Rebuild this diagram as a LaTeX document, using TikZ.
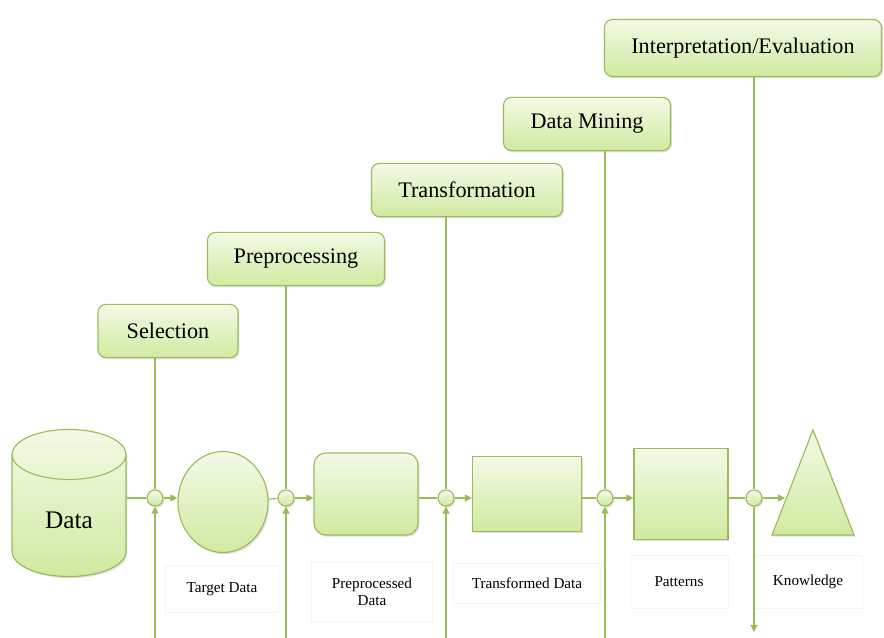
\documentclass[tikz,border=0pt]{standalone}
\usepackage{fontspec}
\setmainfont{Liberation Serif}
\usetikzlibrary{arrows.meta, shapes.geometric, shadows}
\definecolor{kddline}{RGB}{155,187,89}
\definecolor{kddtop}{RGB}{243,250,230}
\definecolor{kddbot}{RGB}{208,234,160}

\begin{document}
\begin{tikzpicture}[x=0.025cm, y=-0.025cm,
  green/.style = {draw=kddline, top color=kddtop, bottom color=kddbot, line width=0.8pt, drop shadow={opacity=0.25, shadow xshift=1pt, shadow yshift=-1.2pt}},
  stage/.style = {green, rounded corners=0.2cm, font=\fontsize{15.8}{18}\selectfont, minimum height=1.33cm},
  hub/.style = {green, circle, minimum size=0.4cm, inner sep=0pt},
  caption/.style = {draw=black!4, font=\fontsize{10.8}{12.5}\selectfont, align=center},
  wire/.style = {draw=kddline, line width=0.8pt},
  flow/.style = {wire, -{Triangle[length=5pt, width=5pt]}}]
\useasboundingbox (0,0) rectangle (884,638);
\coordinate (bot) at (0,638);
\coordinate (sink) at (0,632);
\node[caption, minimum width=2.825cm, minimum height=1.175cm] (tgtl) at (222,589) {Target Data};
\node[caption, minimum width=3.025cm, minimum height=1.475cm] (ppdl) at (372,592) {Preprocessed\\Data};
\node[caption, minimum width=3.675cm, minimum height=1cm] (trdl) at (527,583) {Transformed Data};
\node[caption, minimum width=2.45cm, minimum height=1.325cm] (patl) at (679,582) {Patterns};
\node[caption, minimum width=2.725cm, minimum height=1.325cm] (knol) at (808,582) {Knowledge};
\node[stage, minimum width=3.5cm] (sel) at (168,331) {Selection};
\node[stage, minimum width=4.425cm] (pre) at (296,259) {Preprocessing};
\node[stage, minimum width=4.775cm] (tra) at (467,190) {Transformation};
\node[stage, minimum width=4.175cm] (dmi) at (587,124) {Data Mining};
\node[stage, minimum width=6.925cm, minimum height=1.425cm] (int) at (743,48) {Interpretation/Evaluation};
\node[hub] (c1) at (155,498) {};
\node[hub] (c2) at (286,498) {};
\node[hub] (c3) at (446,498) {};
\node[hub] (c4) at (605,498) {};
\node[hub] (c5) at (754,498) {};
\node[green, cylinder, shape border rotate=90, aspect=0.875, minimum width=2.85cm, minimum height=3.675cm, anchor=shape center, font=\fontsize{18}{20}\selectfont] (data) at (69,503) {Data};
\node[green, ellipse, minimum width=2.25cm, minimum height=2.525cm] (tgt) at (223,502) {};
\node[green, rounded corners=0.3cm, minimum width=2.6cm, minimum height=2.05cm] (ppd) at (366,494) {};
\node[green, minimum width=2.725cm, minimum height=1.875cm] (trd) at (527,494) {};
\node[green, minimum width=2.35cm, minimum height=2.275cm] (pat) at (681,494) {};
\node[green, isosceles triangle, shape border rotate=90, isosceles triangle stretches, minimum width=2.05cm, minimum height=2.625cm, inner sep=0pt] (kno) at (813,507) {};
\coordinate (knoin) at (785,498);
\draw[wire] (c1 |- sel.south) -- (c1);
\draw[wire] (c2 |- pre.south) -- (c2);
\draw[wire] (c3 |- tra.south) -- (c3);
\draw[wire] (c4 |- dmi.south) -- (c4);
\draw[wire] (c5 |- int.south) -- (c5);
\draw[flow] (c1 |- bot) -- (c1);
\draw[flow] (c2 |- bot) -- (c2);
\draw[flow] (c3 |- bot) -- (c3);
\draw[flow] (c4 |- bot) -- (c4);
\draw[flow] (c5) -- (c5 |- sink);
\draw[wire] (c1 -| data.east) -- (c1);
\draw[flow] (c1) -- (c1 -| tgt.west);
\draw[wire] (tgt) -- (c2);
\draw[flow] (c2) -- (c2 -| ppd.west);
\draw[wire] (c3 -| ppd.east) -- (c3);
\draw[flow] (c3) -- (c3 -| trd.west);
\draw[wire] (c4 -| trd.east) -- (c4);
\draw[flow] (c4) -- (c4 -| pat.west);
\draw[wire] (c5 -| pat.east) -- (c5);
\draw[flow] (c5) -- (knoin);
\end{tikzpicture}
\end{document}
